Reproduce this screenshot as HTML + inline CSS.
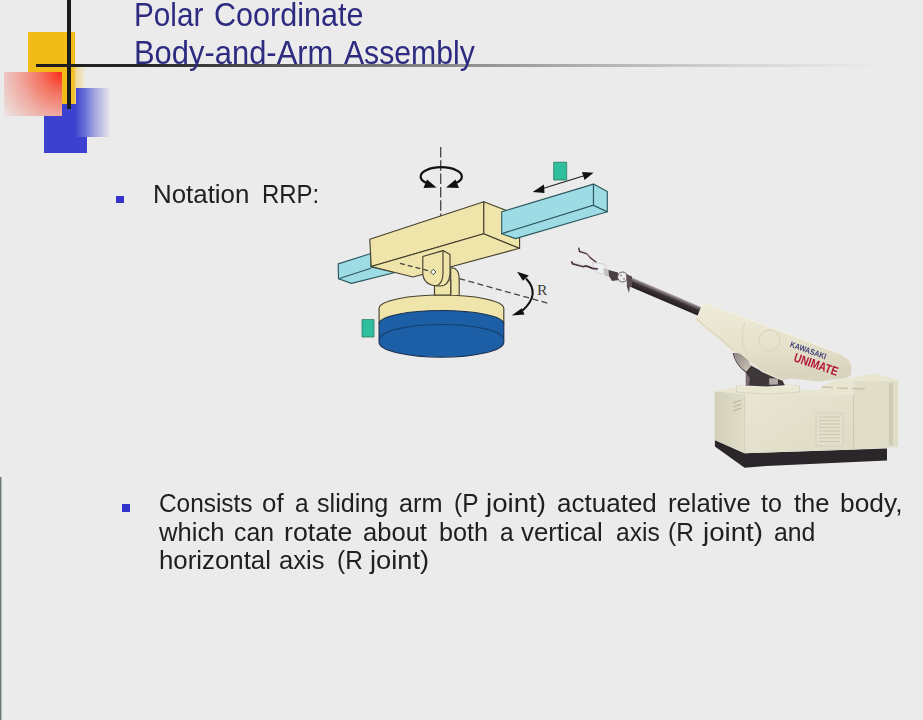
<!DOCTYPE html>
<html><head><meta charset="utf-8">
<style>
html,body{margin:0;padding:0;}
body{width:923px;height:720px;background:#ebebeb;position:relative;overflow:hidden;font-family:"Liberation Sans",sans-serif;}
.abs{position:absolute;}
.t{position:absolute;white-space:nowrap;transform-origin:0 0;line-height:1;}
</style></head>
<body>
<!-- logo squares -->
<div class="abs" style="left:28px;top:32px;width:47px;height:72px;background:#f2bc18;"></div>
<div class="abs" style="left:70px;top:67px;width:16px;height:37px;background:linear-gradient(to right,#f2bc18 0%,rgba(242,205,90,0.6) 40%,rgba(235,235,235,0) 100%);"></div>
<div class="abs" style="left:44px;top:104px;width:43px;height:49px;background:#3c42cf;"></div>
<div class="abs" style="left:4px;top:72px;width:58px;height:44px;background:radial-gradient(circle farthest-corner at 100% 0%,#ff2a18 0%,#f4705e 28%,#f0a89e 58%,#edd0cc 85%,#ebe4e3 100%);"></div>
<div class="abs" style="left:76px;top:88px;width:35px;height:49px;background:linear-gradient(to right,#4248d0 0%,#6a70d6 25%,#a6a8de 55%,rgba(235,235,235,0) 100%);"></div>
<div class="abs" style="left:67px;top:0px;width:4px;height:109px;background:#1c1c1c;"></div>
<div class="abs" style="left:36px;top:64px;width:887px;height:3px;background:linear-gradient(to right,#1c1c1c 0%,#262626 12%,#7a7a7a 40%,#b0b0b0 62%,#d6d6d6 80%,rgba(235,235,235,0) 95%);"></div>
<!-- left edge line -->
<div class="abs" style="left:0px;top:477px;width:1px;height:243px;background:#6a786e;"></div><div class="abs" style="left:1px;top:477px;width:1px;height:243px;background:#b4bcb6;"></div>

<!-- title -->
<div class="t" style="left:134.1px;top:-2px;font-size:33px;color:#2c2b80;transform:scaleX(0.900);">Polar</div>
<div class="t" style="left:213.7px;top:-2px;font-size:33px;color:#2c2b80;transform:scaleX(0.926);">Coordinate</div>
<div class="t" style="left:134.1px;top:36px;font-size:33px;color:#2c2b80;transform:scaleX(0.937);">Body-and-Arm</div>
<div class="t" style="left:344.3px;top:36px;font-size:33px;color:#2c2b80;transform:scaleX(0.914);">Assembly</div>
<div class="t" style="left:153.1px;top:182px;font-size:25.5px;color:#202020;transform:scaleX(1.015);">Notation</div>
<div class="t" style="left:261.9px;top:182px;font-size:25.5px;color:#202020;transform:scaleX(0.940);">RRP:</div>
<div class="t" style="left:158.6px;top:490px;font-size:26px;color:#202020;transform:scaleX(0.938);">Consists</div>
<div class="t" style="left:262.3px;top:490px;font-size:26px;color:#202020;transform:scaleX(0.995);">of</div>
<div class="t" style="left:294.6px;top:490px;font-size:26px;color:#202020;transform:scaleX(0.940);">a</div>
<div class="t" style="left:316.5px;top:490px;font-size:26px;color:#202020;transform:scaleX(0.967);">sliding</div>
<div class="t" style="left:398.6px;top:490px;font-size:26px;color:#202020;transform:scaleX(0.972);">arm</div>
<div class="t" style="left:454.1px;top:490px;font-size:26px;color:#202020;transform:scaleX(0.940);">(P</div>
<div class="t" style="left:485.7px;top:490px;font-size:26px;color:#202020;transform:scaleX(1.064);">joint)</div>
<div class="t" style="left:557.0px;top:490px;font-size:26px;color:#202020;transform:scaleX(1.001);">actuated</div>
<div class="t" style="left:667.8px;top:490px;font-size:26px;color:#202020;transform:scaleX(0.986);">relative</div>
<div class="t" style="left:760.5px;top:490px;font-size:26px;color:#202020;transform:scaleX(0.964);">to</div>
<div class="t" style="left:794.1px;top:490px;font-size:26px;color:#202020;transform:scaleX(0.981);">the</div>
<div class="t" style="left:840.4px;top:490px;font-size:26px;color:#202020;transform:scaleX(1.013);">body,</div>
<div class="t" style="left:158.7px;top:519px;font-size:26px;color:#202020;transform:scaleX(0.986);">which</div>
<div class="t" style="left:234.2px;top:519px;font-size:26px;color:#202020;transform:scaleX(0.953);">can</div>
<div class="t" style="left:283.8px;top:519px;font-size:26px;color:#202020;transform:scaleX(1.027);">rotate</div>
<div class="t" style="left:362.8px;top:519px;font-size:26px;color:#202020;transform:scaleX(0.983);">about</div>
<div class="t" style="left:439.4px;top:519px;font-size:26px;color:#202020;transform:scaleX(0.970);">both</div>
<div class="t" style="left:499.6px;top:519px;font-size:26px;color:#202020;transform:scaleX(0.940);">a</div>
<div class="t" style="left:520.7px;top:519px;font-size:26px;color:#202020;transform:scaleX(0.991);">vertical</div>
<div class="t" style="left:615.5px;top:519px;font-size:26px;color:#202020;transform:scaleX(0.945);">axis</div>
<div class="t" style="left:668.3px;top:519px;font-size:26px;color:#202020;transform:scaleX(0.940);">(R</div>
<div class="t" style="left:702.7px;top:519px;font-size:26px;color:#202020;transform:scaleX(1.064);">joint)</div>
<div class="t" style="left:774.0px;top:519px;font-size:26px;color:#202020;transform:scaleX(0.953);">and</div>
<div class="t" style="left:158.6px;top:547px;font-size:26px;color:#202020;transform:scaleX(0.993);">horizontal</div>
<div class="t" style="left:278.9px;top:547px;font-size:26px;color:#202020;transform:scaleX(0.983);">axis</div>
<div class="t" style="left:336.8px;top:547px;font-size:26px;color:#202020;transform:scaleX(0.940);">(R</div>
<div class="t" style="left:370.1px;top:547px;font-size:26px;color:#202020;transform:scaleX(1.050);">joint)</div>

<!-- bullets -->
<div class="abs" style="left:116px;top:196px;width:8px;height:7px;background:#3333cc;"></div>
<div class="abs" style="left:122px;top:504px;width:8px;height:8px;background:#3333cc;"></div>

<!-- DIAGRAM -->
<svg class="abs" style="left:0;top:0" width="923" height="720" viewBox="0 0 923 720">
<g stroke="#45402e" stroke-width="1.15" stroke-linejoin="round" fill="none">
 <!-- vertical dashed axis -->
 <line x1="440.7" y1="147" x2="440.7" y2="226" stroke="#444" stroke-width="1.3" stroke-dasharray="10.5,2.8"/>
 <!-- rotation arrow -->
 <path d="M426.5,183 A20.6,9.3 0 1 1 456,183" stroke="#111" stroke-width="2.2"/>
 <polygon points="423.5,188 436.5,187.5 427,179.5" fill="#111" stroke="none"/>
 <polygon points="459,188 446,187.5 455.5,179.5" fill="#111" stroke="none"/>
 <!-- cyan left beam -->
 <path d="M338.2,263.9 L371,253.5 L371,267 L395,272.5 L351.5,283.4 L338.5,278.8 Z" fill="#9edce5" stroke="#2e5860"/>
 <path d="M338.5,278.8 L371,268.3" stroke="#2e5860"/>
 <!-- yellow box -->
 <path d="M369.8,239.2 L483.8,201.7 L483.8,233.7 L371.2,266.5 Z" fill="#efe4aa"/>
 <path d="M371.2,266.5 L483.8,233.7 L519.6,248.3 L413,277 Z" fill="#efe4aa"/>
 <path d="M483.8,201.7 L519.6,215.5 L519.6,248.3 L483.8,233.7 Z" fill="#efe4aa"/>
 <!-- cyan right beam -->
 <path d="M501.7,211.8 L593.5,184.1 L593.5,205.3 L501.7,233.7 Z" fill="#9edce5" stroke="#2e5860"/>
 <path d="M501.7,233.7 L593.5,205.3 L607.3,211.8 L515.5,238.6 Z" fill="#9edce5" stroke="#2e5860"/>
 <path d="M593.5,184.1 L607.3,191.4 L607.3,211.8 L593.5,205.3 Z" fill="#9edce5" stroke="#2e5860"/>
 <!-- horizontal R axis dashed -->
 <line x1="459.2" y1="278.6" x2="548.3" y2="303.3" stroke="#444" stroke-width="1.3" stroke-dasharray="6,3.5"/>
 <!-- disk -->
 <path d="M379.1,308 A62.4,13.5 0 0 1 503.8,308 L503.8,323.3 L379.1,323.3 Z" fill="#efe4aa"/>
 <path d="M379.1,323.3 A62.4,13.3 0 0 1 503.8,323.3 L503.8,342.8 A62.4,14.9 0 0 1 379.1,342.8 Z" fill="#1c5fa7" stroke="#1a3050"/>
 <path d="M379.5,339.5 A62,15 0 0 1 503.5,339.5" stroke="#14406e"/>
 <!-- shaft -->
 <path d="M450.7,295 L450.7,268 Q459.2,267 459.2,280 L459.2,295" fill="#efe4aa"/>
 <rect x="434.5" y="280" width="16.2" height="15" fill="#efe4aa"/>
 <!-- clevis -->
 <path d="M422.8,256.5 L443,250.6 L450,254.5 L450,274 Q449,286 440,286 Q423,286 422.8,273 Z" fill="#efe4aa"/>
 <path d="M443,250.6 L443,273 Q443,284 436,286"/>
 <path d="M430.5,272 L433.2,269.3 L435.9,272 L433.2,274.7 Z" fill="#fff" stroke-width="1"/>
 <line x1="400" y1="263.3" x2="431" y2="271.3" stroke="#444" stroke-width="1.3" stroke-dasharray="5,3"/>
 <!-- R arc -->
 <path d="M526,278.5 Q541,294 522.5,310.5" stroke="#111" stroke-width="2.1"/>
 <polygon points="517.1,271.7 528.8,275.4 522.9,280.8" fill="#111" stroke="none"/>
 <polygon points="511.7,315.4 521.7,308.3 524.6,314.6" fill="#111" stroke="none"/>
 <!-- slide arrow -->
 <line x1="538" y1="190" x2="588" y2="174.5" stroke="#222" stroke-width="1.2"/>
 <polygon points="532.6,191.9 544,184.5 544.5,193" fill="#111" stroke="none"/>
 <polygon points="593.5,172.8 582,172 584.5,180" fill="#111" stroke="none"/>
 <!-- teal markers -->
 <rect x="553.7" y="162.2" width="13" height="17.8" fill="#2fbf9c" stroke="#2a7a66" stroke-width="0.8"/>
 <rect x="362" y="319.6" width="12" height="17.4" fill="#2fbf9c" stroke="#2a7a66" stroke-width="0.8"/>
</g>
<text x="537" y="294.5" font-family="Liberation Serif" font-size="15.5" fill="#3a3a3a">R</text>
</svg>
<!-- ROBOT -->
<svg class="abs" style="left:0;top:0;filter:blur(0.35px)" width="923" height="720" viewBox="0 0 923 720">
<defs>
 <linearGradient id="gFront" x1="0" y1="0" x2="1" y2="1">
  <stop offset="0" stop-color="#e8e5d2"/><stop offset="1" stop-color="#dedac5"/>
 </linearGradient>
 <linearGradient id="gLeft" x1="0" y1="0" x2="1" y2="0">
  <stop offset="0" stop-color="#d2cfba"/><stop offset="1" stop-color="#e0ddc8"/>
 </linearGradient>
 <linearGradient id="gArm" x1="0" y1="0" x2="0.2" y2="1">
  <stop offset="0" stop-color="#eeebd9"/><stop offset="0.6" stop-color="#e6e2cc"/><stop offset="1" stop-color="#d8d4bd"/>
 </linearGradient>
 <linearGradient id="gTube" x1="0" y1="0" x2="0.3" y2="1">
  <stop offset="0" stop-color="#9a9096"/><stop offset="0.3" stop-color="#3c3439"/><stop offset="1" stop-color="#2a2428"/>
 </linearGradient>
<linearGradient id="gTube2" x1="0" y1="0" x2="0" y2="1">
  <stop offset="0" stop-color="#b0a8ac"/><stop offset="0.2" stop-color="#7a7074"/><stop offset="0.45" stop-color="#3a3236"/><stop offset="1" stop-color="#231e22"/>
 </linearGradient>
</defs>
<!-- plinth -->
<path d="M714.9,440 L744.6,453.2 L887,448.6 L887,460.6 L766,466 L744.6,467.7 L714.9,446.6 Z" fill="#2a2629"/>
<!-- cabinet -->
<path d="M714.5,391.2 L744.6,393.9 L744.6,453.2 L714.5,440 Z" fill="url(#gLeft)"/>
<path d="M744.6,393.9 L853.6,394.4 L853.6,449.4 L744.6,453.2 Z" fill="url(#gFront)"/>
<path d="M853.6,381 L898.2,381 L898.2,447 L853.6,449.4 Z" fill="#e0ddc8"/>
<path d="M889,383 L893,383 L893,445 L889,446 Z" fill="#cfccb6"/>
<path d="M714.5,391.2 L736,387 L800,390 L819,390.3 L830,382 L875,373.6 L899,380 L898.2,381 L853.6,381 L853.6,394.4 L744.6,393.9 Z" fill="#e8e5d1"/>
<line x1="853.6" y1="394.4" x2="853.6" y2="449.4" stroke="#c9c6b0" stroke-width="1"/>
<line x1="744.6" y1="393.9" x2="744.6" y2="453.2" stroke="#cfccb8" stroke-width="0.8"/>
<!-- vents -->
<g stroke="#b9b5a0" stroke-width="1.2">
 <line x1="733" y1="403" x2="741" y2="400"/><line x1="733" y1="407" x2="741" y2="404"/><line x1="733" y1="411" x2="741" y2="408"/>
</g>
<rect x="816" y="413" width="27" height="33" fill="#e2dfcb" stroke="#d0cdb8" stroke-width="0.8"/>
<g stroke="#cbc7b2" stroke-width="1">
 <line x1="819" y1="417" x2="840" y2="417"/><line x1="819" y1="420.5" x2="840" y2="420.5"/><line x1="819" y1="424" x2="840" y2="424"/>
 <line x1="819" y1="427.5" x2="840" y2="427.5"/><line x1="819" y1="431" x2="840" y2="431"/><line x1="819" y1="434.5" x2="840" y2="434.5"/>
 <line x1="819" y1="438" x2="840" y2="438"/><line x1="819" y1="441.5" x2="840" y2="441.5"/>
</g>
<g stroke="#c8c4ae" stroke-width="1.5">
 <line x1="822" y1="387" x2="833" y2="387.5"/><line x1="837" y1="388" x2="848" y2="388.5"/><line x1="852" y1="388.5" x2="865" y2="389"/>
</g>
<!-- turntable -->
<path d="M736.5,386 Q768,382.5 799.5,386 L799.5,392 Q768,395.5 736.5,392 Z" fill="#e9e6d2" stroke="#cfcbb6" stroke-width="0.7"/><path d="M736.5,386 Q768,382.5 799.5,386 Q768,389 736.5,386 Z" fill="#f0eee0"/>
<!-- mechanism -->
<path d="M745.8,372 L750.1,365.1 L762.3,371.6 L782.2,379.9 L784.8,385.3 L767,386.5 L745.8,385.5 Z" fill="#3d373a"/>
<path d="M769.2,378.3 L777.9,378.6 L777.9,384.5 L769.2,384.8 Z" fill="#b2aaa9"/>
<path d="M746,373 L750,378 L749,385.5 L746,385 Z" fill="#7a6c70"/>
<!-- shoulder cone -->
<defs><linearGradient id="gCone" x1="0" y1="0" x2="1" y2="1"><stop offset="0" stop-color="#8e8482"/><stop offset="1" stop-color="#cfc7bd"/></linearGradient></defs>
<path d="M733.2,353 L740.6,353 L748.4,359.9 L751,366 L745.8,372 L738,363.4 Z" fill="url(#gCone)"/>
<path d="M733.2,353 Q735,364 745.8,372" fill="none" stroke="#4e4644" stroke-width="1.1"/>
<!-- arm body -->
<path d="M704.6,303 L780,331 L838.5,353.2 L849,360 L851.5,367 L850.9,375 L846.5,378 L818.9,381.6 L793.1,378.5 L782.2,379.9 L773.5,376.4 L762.3,371.6 L751,362.5 L740.6,353.9 L733.7,352.1 L695.8,320.5 L697,311 Z" fill="url(#gArm)"/>
<path d="M697,311 L704.6,303 L780,331 L838.5,353.2" fill="none" stroke="#f3f1e4" stroke-width="1"/>
<path d="M696.5,319 L734,350" fill="none" stroke="#d2cdb6" stroke-width="1"/>
<path d="M751,362.5 L762.3,371.6 L773.5,376.4 L782.2,379.9" fill="none" stroke="#e9e6d6" stroke-width="1.2"/>
<path d="M745,323 Q738,340 748,355" fill="none" stroke="#dcd8c2" stroke-width="1.2"/>
<circle cx="769.5" cy="340.5" r="10.5" fill="none" stroke="#d6d2bc" stroke-width="1"/>
<!-- labels -->
<text transform="translate(789.5,346.5) rotate(20)" font-family="Liberation Sans" font-weight="bold" font-size="8" fill="#3c3c7a" textLength="38" lengthAdjust="spacingAndGlyphs">KAWASAKI</text>
<text transform="translate(793,361) rotate(19)" font-family="Liberation Sans" font-weight="bold" font-size="12.5" fill="#b3143a" textLength="46" lengthAdjust="spacingAndGlyphs">UNIMATE</text>
<!-- tube -->
<g transform="translate(628.5,281) rotate(23.05)"><rect x="0" y="-4.6" width="77" height="9.2" fill="url(#gTube2)"/></g>
<!-- wrist -->
<path d="M592.5,262.5 L604,264 L609.5,272 L600,274 L594,270 Z" fill="#eef0f4" stroke="#b8b0b4" stroke-width="0.5"/>
<path d="M603,268 L609,270 L611,277 L605,276 Z" fill="#c8c0c0"/>
<path d="M608.5,270 L618,272.5 L619,280 L612,281 L609,276 Z" fill="#4a3f45"/>
<circle cx="622.6" cy="277" r="5" fill="#eceaea" stroke="#5a4f55" stroke-width="0.9"/>
<circle cx="621" cy="275.5" r="0.8" fill="#6a6066"/><circle cx="624" cy="279" r="0.8" fill="#6a6066"/>
<path d="M626,274 L632,276.5 L632,287 L627,285 Z" fill="#5a4d53"/>
<path d="M626.5,285.5 L630,286 L629,293 Z" fill="#5a4d53"/>
<path d="M578.7,247.6 L579.5,251.5 L587.1,253.8 L590.9,258.3 L596.3,262.2" fill="none" stroke="#4a3038" stroke-width="1.4"/>
<path d="M580,250 L586,252 L590,256.5" fill="none" stroke="#e0d8dc" stroke-width="0.8"/>
<path d="M571.4,261.4 L572.6,263.7 L583.3,266.7 L586.3,266 L592.4,268.3 L598,269" fill="none" stroke="#4a3038" stroke-width="1.7"/>
<path d="M573,262 L582,265" fill="none" stroke="#ddd6d8" stroke-width="0.8"/>
</svg>
</body></html>
